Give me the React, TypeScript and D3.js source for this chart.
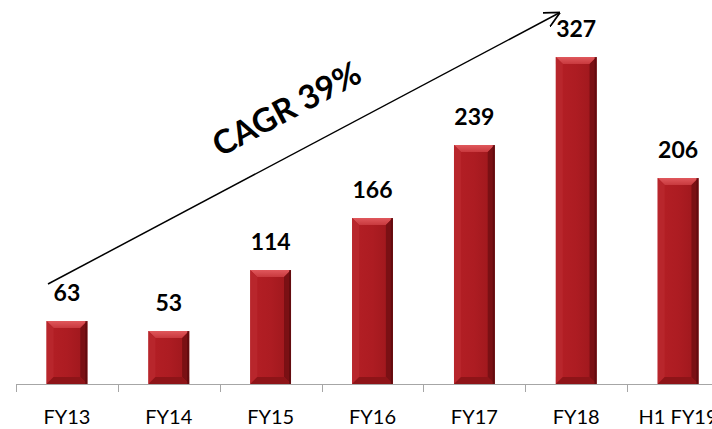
import React from "react";
import * as d3 from "d3";

const categories = ["FY13", "FY14", "FY15", "FY16", "FY17", "FY18", "H1 FY19"];
const values = [63, 53, 114, 166, 239, 327, 206];
const cagrLabel = "CAGR 39%";

const W = 712;
const H = 429;
const FONT = "Lato, 'Open Sans', sans-serif";

export default function App() {
  const x = d3.scaleBand<string>().domain(categories).range([16, 729]).paddingInner(0.6).paddingOuter(0.3);
  const y = d3.scaleLinear().domain([0, 384]).range([384, 0]);
  const bw = x.bandwidth();
  const bev = 7;
  const allTicks = d3.range(categories.length + 1).map((i) => 16 + i * x.step());

  return (
    <svg width={W} height={H} style={{ position: "absolute", left: 0, top: 0, background: "#fff" }}>
      <defs>
        <linearGradient id="face" x1="0" x2="1" y1="0" y2="0">
          <stop offset="0" stopColor="#b41f25" />
          <stop offset="0.5" stopColor="#ad1c22" />
          <stop offset="1" stopColor="#9c171c" />
        </linearGradient>
        <linearGradient id="topB" x1="0" x2="0" y1="0" y2="1">
          <stop offset="0" stopColor="#e0585c" />
          <stop offset="1" stopColor="#c8393e" />
        </linearGradient>
      </defs>
      {/* axis */}
      <line x1={16} x2={W} y1={384.5} y2={384.5} stroke="#a6a6a6" strokeWidth={1} />
      {allTicks.map((t, i) => (
        <line key={i} x1={Math.round(t) + 0.5} x2={Math.round(t) + 0.5} y1={384} y2={392} stroke="#a6a6a6" strokeWidth={1} />
      ))}
      {/* bars */}
      {categories.map((c, i) => {
        const x0 = x(c)!;
        const x1 = x0 + bw;
        const y0 = y(values[i]);
        const y1 = y(0);
        return (
          <g key={c}>
            <rect x={x0} y={y0} width={bw} height={y1 - y0} fill="url(#face)" />
            <polygon points={`${x0},${y0} ${x1},${y0} ${x1 - bev},${y0 + bev} ${x0 + bev},${y0 + bev}`} fill="url(#topB)" />
            <polygon points={`${x0},${y0} ${x0 + bev},${y0 + bev} ${x0 + bev},${y1 - bev} ${x0},${y1}`} fill="#b8262c" />
            <polygon points={`${x1},${y0} ${x1 - bev},${y0 + bev} ${x1 - bev},${y1 - bev} ${x1},${y1}`} fill="#7a1014" />
            <polygon points={`${x0},${y1} ${x0 + bev},${y1 - bev} ${x1 - bev},${y1 - bev} ${x1},${y1}`} fill="#8e1418" />
            <rect x={x1 - 2} y={y0} width={2} height={y1 - y0} fill="#5a0a0d" opacity={0.7} />
            <text x={x0 + bw / 2} y={y0 - 20} textAnchor="middle" fontFamily={FONT} fontWeight="bold" fontSize={23} fill="#000">
              {values[i]}
            </text>
            <text x={x0 + bw / 2} y={424} textAnchor="middle" fontFamily={FONT} fontSize={20} fill="#000">
              {c}
            </text>
          </g>
        );
      })}
      {/* CAGR arrow */}
      <defs>
        <marker id="arr" viewBox="0 0 12 12" refX="11" refY="6" markerWidth="16" markerHeight="16" markerUnits="userSpaceOnUse" orient="auto">
          <path d="M0,0 L12,6 L0,12" fill="none" stroke="#000" strokeWidth={1.3} />
        </marker>
      </defs>
      <line x1={48} y1={284} x2={559} y2={13} stroke="#000" strokeWidth={1.5} markerEnd="url(#arr)" />
      <text
        transform={`translate(292,119) rotate(-28)`}
        textAnchor="middle"
        fontFamily={FONT}
        fontWeight="bold"
        fontSize={33}
        fill="#000"
      >
        {cagrLabel}
      </text>
    </svg>
  );
}
